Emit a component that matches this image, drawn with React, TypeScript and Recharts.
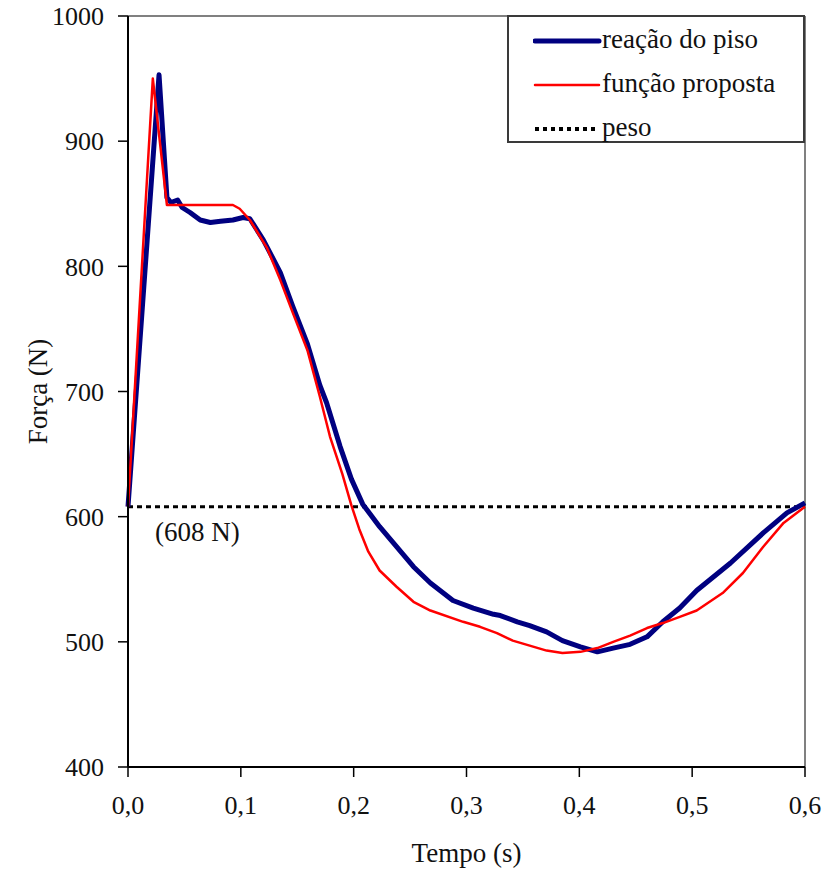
import React from "react";
import {
  LineChart, Line, XAxis, YAxis, ReferenceLine, Legend,
} from "recharts";

// reação do piso (measured ground reaction)
const pisoTempo = [
  0, 0.017, 0.0275, 0.0345, 0.038, 0.044, 0.048, 0.055, 0.064, 0.073, 0.082,
  0.093, 0.102, 0.108, 0.12, 0.135, 0.146, 0.159, 0.17, 0.176, 0.188, 0.198,
  0.208, 0.223, 0.238, 0.253, 0.268, 0.288, 0.306, 0.324, 0.33, 0.345, 0.356,
  0.371, 0.385, 0.401, 0.416, 0.43, 0.445, 0.46, 0.474, 0.489, 0.504, 0.534,
  0.563, 0.584, 0.6,
];
const pisoForca = [
  608, 821, 953, 855, 851, 853, 847, 843, 837, 835, 836,
  837, 839, 838, 821, 795, 768, 738, 705, 691, 656, 630,
  610, 592, 576, 560, 547, 533, 527, 522, 521, 516, 513,
  508, 501, 496, 492, 495, 498, 504, 516, 527, 541, 563,
  587, 603, 611,
];

// função proposta (fitted function)
const propostaTempo = [
  0, 0.022, 0.0345, 0.093, 0.099, 0.108, 0.123, 0.135, 0.146, 0.159, 0.17,
  0.179, 0.19, 0.198, 0.205, 0.213, 0.223, 0.238, 0.253, 0.268, 0.297, 0.312,
  0.327, 0.341, 0.356, 0.371, 0.385, 0.401, 0.416, 0.43, 0.445, 0.46, 0.474,
  0.489, 0.504, 0.527, 0.545, 0.563, 0.581, 0.6,
];
const propostaForca = [
  608, 950, 849, 849, 846, 837, 815, 789, 763, 733, 696,
  664, 634, 609, 590, 572, 557, 544, 532, 525, 516, 512,
  507, 501, 497, 493, 491, 492, 495, 500, 505, 511, 515,
  520, 525, 539, 555, 576, 595, 608,
];

// peso (body weight)
const pesoTempo = [0, 0.6];
const pesoValor = 608;

const xTicks = [0, 0.1, 0.2, 0.3, 0.4, 0.5, 0.6];
const yTicks = [400, 500, 600, 700, 800, 900, 1000];

const pisoData = pisoTempo.map((t, i) => ({ t, f: pisoForca[i] }));
const propostaData = propostaTempo.map((t, i) => ({ t, f: propostaForca[i] }));
const pesoData = pesoTempo.map((t) => ({ t, f: pesoValor }));

const FONT = "'Liberation Serif', 'Times New Roman', serif";

const legendItems = [
  { label: "reação do piso", color: "#000080", width: 5, dash: undefined },
  { label: "função proposta", color: "#ff0000", width: 2.5, dash: undefined },
  { label: "peso", color: "#000000", width: 4, dash: "4 4" },
];

const LegendBox = () => (
  <div
    style={{
      width: 298, height: 128, boxSizing: "border-box",
      border: "2px solid #3a3a3a", background: "#fff",
      fontFamily: FONT, fontSize: 27, color: "#111",
      paddingTop: 0,
    }}
  >
    {legendItems.map((it) => (
      <div key={it.label} style={{ display: "flex", alignItems: "center", height: 44 }}>
        <svg width={90} height={12} style={{ marginLeft: 24, marginTop: 4 }}>
          <line
            x1={2} y1={6} x2={66} y2={6}
            stroke={it.color} strokeWidth={it.width}
            strokeDasharray={it.dash}
            strokeLinecap={it.dash ? "butt" : "round"}
          />
        </svg>
        <span style={{ marginLeft: -21, lineHeight: 1 }}>{it.label}</span>
      </div>
    ))}
  </div>
);

const XTitle = ({ viewBox }: any) => (
  <text
    x={viewBox.x + viewBox.width / 2} y={viewBox.y + 95}
    textAnchor="middle" fontFamily={FONT} fontSize={27} fill="#111"
  >
    Tempo (s)
  </text>
);

const YTitle = ({ viewBox }: any) => {
  const x = viewBox.x + 38;
  const y = viewBox.y + viewBox.height / 2;
  return (
    <text
      x={x} y={y} transform={`rotate(-90 ${x} ${y})`}
      textAnchor="middle" dominantBaseline="central"
      fontFamily={FONT} fontSize={27} fill="#111"
    >
      Força (N)
    </text>
  );
};

const PesoLabel = ({ viewBox }: any) => (
  <text
    x={viewBox.x + 27} y={viewBox.y + 34}
    fontFamily={FONT} fontSize={27} fill="#111"
  >
    (608 N)
  </text>
);

export default function App() {
  return (
    <div style={{ position: "absolute", left: 0, top: 0, width: 827, height: 872, background: "#fff" }}>
      <LineChart
        width={827}
        height={872}
        margin={{ top: 16, right: 22, bottom: 0, left: 0 }}
      >
        <XAxis
          dataKey="t"
          type="number"
          domain={[0, 0.6]}
          ticks={xTicks}
          allowDuplicatedCategory={false}
          tickFormatter={(v: number) => v.toFixed(1).replace(".", ",")}
          tick={{ fontSize: 26, fill: "#111", fontFamily: FONT }}
          tickSize={10}
          tickMargin={19}
          height={105}
          axisLine={{ stroke: "#000", strokeWidth: 2 }}
          tickLine={{ stroke: "#000", strokeWidth: 1.5 }}
          label={<XTitle />}
        />
        <YAxis
          type="number"
          domain={[400, 1000]}
          ticks={yTicks}
          tick={{ fontSize: 26, fill: "#111", fontFamily: FONT }}
          tickSize={10}
          tickMargin={14}
          width={128}
          axisLine={{ stroke: "#000", strokeWidth: 2 }}
          tickLine={{ stroke: "#000", strokeWidth: 1.5 }}
          label={<YTitle />}
        />
        <ReferenceLine y={1000} stroke="#808080" strokeWidth={2} />
        <ReferenceLine x={0.6} stroke="#808080" strokeWidth={2} />
        <ReferenceLine y={pesoValor} stroke="none" label={<PesoLabel />} />
        <Legend
          layout="vertical"
          align="center"
          verticalAlign="middle"
          content={<LegendBox />}
          wrapperStyle={{ top: 15, left: 507, width: 298, height: 128 }}
        />
        <Line
          data={pesoData}
          dataKey="f"
          type="linear"
          stroke="#000"
          strokeWidth={3}
          strokeDasharray="5 4"
          dot={false}
          isAnimationActive={false}
        />
        <Line
          data={pisoData}
          dataKey="f"
          type="linear"
          stroke="#000080"
          strokeWidth={5}
          strokeLinejoin="round"
          dot={false}
          isAnimationActive={false}
        />
        <Line
          data={propostaData}
          dataKey="f"
          type="linear"
          stroke="#ff0000"
          strokeWidth={2.5}
          strokeLinejoin="round"
          dot={false}
          isAnimationActive={false}
        />
      </LineChart>
    </div>
  );
}
